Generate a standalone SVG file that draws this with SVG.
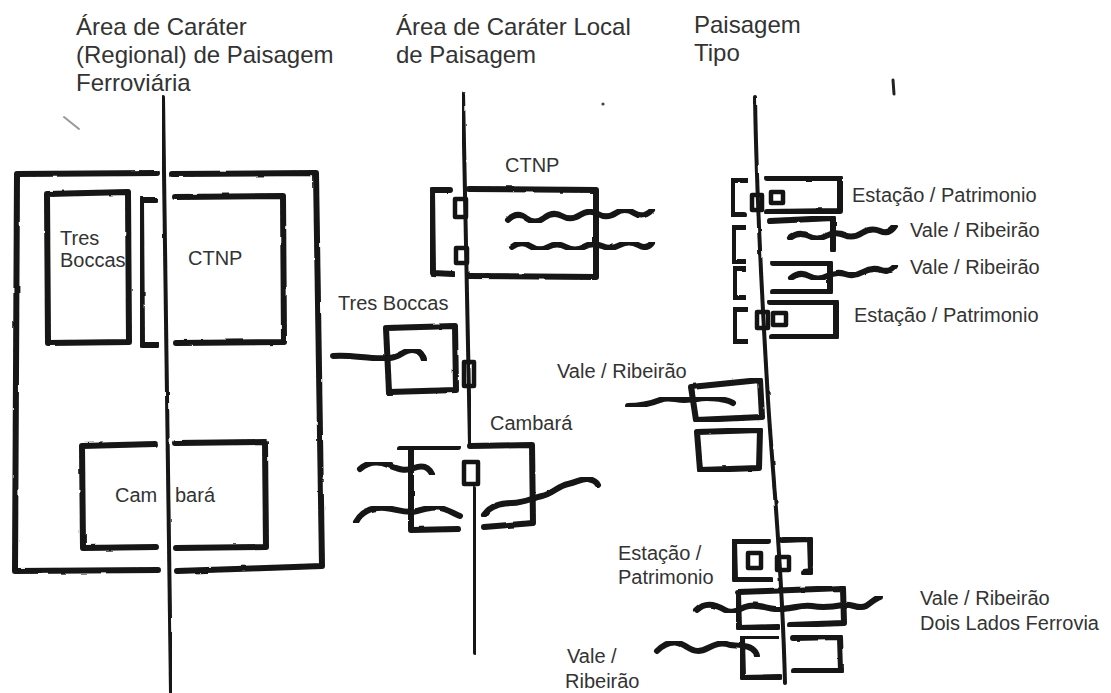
<svg xmlns="http://www.w3.org/2000/svg" width="1111" height="693" viewBox="0 0 1111 693">
<defs>
<style>
.s{fill:none;stroke:#141414;stroke-width:6;stroke-linecap:round;stroke-linejoin:round;filter:url(#rough)}
.r{fill:none;stroke:#141414;stroke-width:4;stroke-linecap:round;stroke-linejoin:round;filter:url(#rough)}
.sq{fill:none;stroke:#141414;stroke-width:4.5;stroke-linejoin:round}
.t{font-family:"Liberation Sans",Arial,sans-serif;font-size:20px;fill:#333}
.h{font-family:"Liberation Sans",Arial,sans-serif;font-size:24px;fill:#333}
</style>
<filter id="rough" x="-5%" y="-5%" width="110%" height="110%">
<feTurbulence type="fractalNoise" baseFrequency="0.06" numOctaves="2" seed="4" result="n"/>
<feDisplacementMap in="SourceGraphic" in2="n" scale="2.2" xChannelSelector="R" yChannelSelector="G"/>
</filter>
</defs>
<rect width="1111" height="693" fill="#ffffff"/>

<g id="titles">
<text class="h" x="76" y="35">Área de Caráter</text>
<text class="h" x="76" y="63">(Regional) de Paisagem</text>
<text class="h" x="76" y="91">Ferroviária</text>
<text class="h" x="396" y="35">Área de Caráter Local</text>
<text class="h" x="396" y="63">de Paisagem</text>
<text class="h" x="694" y="33">Paisagem</text>
<text class="h" x="694" y="61">Tipo</text>
</g>

<g id="connectors">
<path class="r" d="M163,97 C164,250 168,450 171,693"/>
<path class="r" d="M463,93 C465,200 468,320 470,446"/>
<path class="r" d="M474,488 C474,560 474,610 475,653"/>
<path class="r" d="M755,97 C757,220 764,330 768,400 C773,480 782,560 785,683"/>
</g>

<g id="c1-outer">
<path class="s" d="M157,173 L17,174 L15,571 L158,570"/>
<path class="s" d="M172,174 L316,173 L322,566 L177,571"/>
</g>
<g id="c1-tres-boccas">
<path class="s" d="M47,194 L128,192 L129,342 L48,343 Z"/>
<text class="t" x="60" y="245">Tres</text>
<text class="t" x="60" y="267">Boccas</text>
</g>
<g id="c1-ctnp">
<path class="s" d="M156,200 L141,200 L142,345 L158,345"/>
<path class="s" d="M175,197 L283,196 L284,342 L176,343"/>
<text class="t" x="188" y="265">CTNP</text>
</g>
<g id="c1-cambara">
<path class="s" d="M155,444 L82,446 L83,548 L156,547"/>
<path class="s" d="M176,443 L265,442 L266,547 L176,548"/>
<text class="t" x="115" y="502">Cam</text>
<text class="t" x="175" y="502">bará</text>
</g>

<g id="c2-ctnp">
<path class="s" d="M450,190 L432,190 L433,273 L453,274"/>
<path class="s" d="M469,189 L596,190 L596,277 L468,276"/>
<rect class="sq" x="455" y="199" width="11" height="18"/>
<rect class="sq" x="456" y="248" width="11" height="15"/>
<path class="s" d="M508,220 Q517,211 526,218 T544,218 T562,216 T580,215 T598,214 T616,213 T634,213 T652,210"/>
<path class="s" d="M512,247 Q521,240 530,246 T548,247 T566,247 T584,247 T602,246 T620,245 T638,245 T652,243"/>
<text class="t" x="505" y="172">CTNP</text>
</g>
<g id="c2-tres-boccas">
<path class="s" d="M386,328 L455,326 L456,390 L389,392 Z"/>
<rect class="sq" x="464" y="362" width="10" height="24"/>
<path class="s" d="M333,356 C350,354 372,360 390,358 C400,357 404,350 412,350 C420,350 423,356 424,360"/>
<text class="t" x="338" y="310">Tres Boccas</text>
</g>
<g id="c2-cambara">
<path class="s" d="M470,446 L532,445 L533,523 L484,527"/>
<path class="s" d="M400,449 L458,447"/>
<path class="s" d="M411,449 L411,530 L458,529"/>
<rect class="sq" x="464" y="462" width="14" height="22"/>
<path class="s" d="M360,469 C368,462 378,461 388,465 C398,469 405,472 414,468 C422,465 428,466 432,474"/>
<path class="s" d="M356,522 C362,511 372,507 385,508 C398,509 405,514 417,511 C428,508 436,506 444,509 C450,511 455,514 460,516"/>
<path class="s" d="M484,515 C490,506 500,503 512,503 C524,503 532,498 542,496 C552,494 558,486 568,484 C578,482 582,478 588,479 C594,480 597,483 598,485"/>
<text class="t" x="490" y="430">Cambará</text>
</g>

<g id="c3-estacao-1">
<path class="s" d="M747,180 L732,180 L732,215 L744,215"/>
<path class="s" d="M767,178 L840,178 L840,211 L767,212"/>
<rect class="sq" x="752" y="195" width="10" height="15"/>
<rect class="sq" x="771" y="192" width="12" height="11"/>
<text class="t" x="852" y="202">Estação / Patrimonio</text>
</g>
<g id="c3-vale-1">
<path class="s" d="M745,227 L733,227 L733,262 L745,262"/>
<path class="s" d="M770,221 L833,218 L833,250"/>
<path class="s" d="M773,253 L827,253"/>
<path class="s" d="M790,238 Q799,231 808,236 T826,236 T844,235 T862,233 T880,231 T895,226"/>
<text class="t" x="910" y="237">Vale / Ribeirão</text>
</g>
<g id="c3-vale-2">
<path class="s" d="M745,268 L734,268 L734,298 L745,298"/>
<path class="s" d="M773,263 L830,263 L830,292 L773,292"/>
<path class="s" d="M791,278 Q800,271 809,276 T827,276 T845,274 T863,272 T881,270 T895,266"/>
<text class="t" x="910" y="274">Vale / Ribeirão</text>
</g>
<g id="c3-estacao-2">
<path class="s" d="M747,309 L734,309 L734,342 L747,342"/>
<path class="s" d="M770,302 L836,302 L836,337 L772,337"/>
<rect class="sq" x="757" y="312" width="11" height="16"/>
<rect class="sq" x="773" y="313" width="13" height="12"/>
<text class="t" x="854" y="322">Estação / Patrimonio</text>
</g>
<g id="c3-vale-3">
<path class="s" d="M691,387 L760,380 L762,417 L696,420 Z"/>
<path class="s" d="M627,406 C640,406 650,404 660,400 C668,396 675,400 684,400 L697,399 C705,397 712,398 720,399 C726,400 730,401 733,403"/>
<text class="t" x="557" y="378">Vale / Ribeirão</text>
</g>
<g id="c3-box">
<path class="s" d="M697,432 L760,430 L759,468 L700,470 Z"/>
</g>
<g id="c3-estacao-3">
<path class="s" d="M768,541 L734,541 L735,580 L771,580"/>
<path class="s" d="M782,540 L810,539 L811,572 L804,573"/>
<rect class="sq" x="748" y="553" width="13" height="15"/>
<rect class="sq" x="777" y="557" width="12" height="13"/>
<text class="t" x="618" y="560">Estação /</text>
<text class="t" x="618" y="584">Patrimonio</text>
</g>
<g id="c3-vale-dois-lados">
<path class="s" d="M738,592 L843,588 L844,623 L790,625"/>
<path class="s" d="M738,593 L739,628 L778,627"/>
<path class="s" d="M697,610 C705,602 715,604 725,610 C732,614 738,610 745,607 C755,603 765,608 775,609 C790,610 800,604 812,606 C824,608 832,607 843,605 C852,603 858,610 866,606 C872,602 876,598 880,597"/>
<text class="t" x="920" y="605">Vale / Ribeirão</text>
<text class="t" x="920" y="630">Dois Lados Ferrovia</text>
</g>
<g id="c3-vale-4">
<path class="s" d="M742,638 L777,637"/>
<path class="s" d="M742,638 L743,678 L780,677"/>
<path class="s" d="M793,638 L840,637 L841,671 L794,671"/>
<path class="s" d="M657,651 C667,641 677,640 687,647 C695,652 700,652 708,648 C716,644 722,642 730,645 L742,646 C750,646 756,650 757,656"/>
<text class="t" x="567" y="663">Vale /</text>
<text class="t" x="565" y="688">Ribeirão</text>
</g>

<g id="marks">
<path d="M893,80 L894,94" stroke="#222" stroke-width="3" stroke-linecap="round"/>
<path d="M64,117 L79,129" stroke="#999" stroke-width="2" stroke-linecap="round"/>
<circle cx="603" cy="104" r="1.6" fill="#444"/>
</g>
</svg>
